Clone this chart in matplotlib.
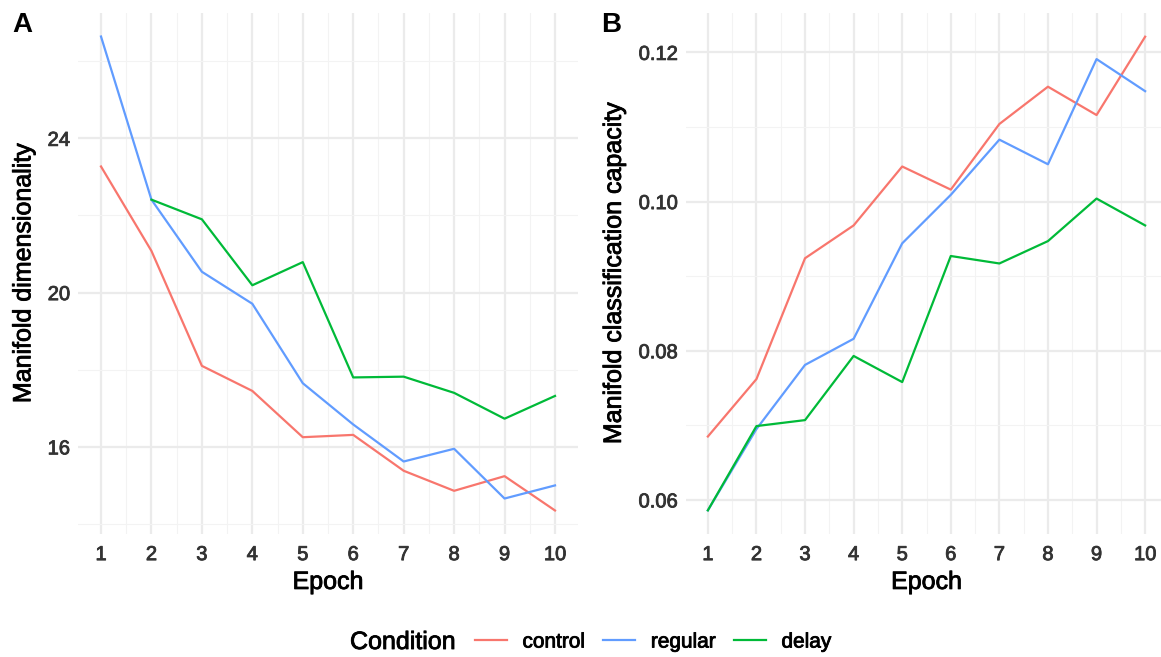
import matplotlib.pyplot as plt
import matplotlib.patheffects as pe
from matplotlib.lines import Line2D
from matplotlib.ticker import MultipleLocator

plt.rcParams['font.family'] = ['Liberation Sans', 'DejaVu Sans']

# data
epochs = [1, 2, 3, 4, 5, 6, 7, 8, 9, 10]
epochs_delay_a = [2, 3, 4, 5, 6, 7, 8, 9, 10]

dim_control = [23.27, 21.08, 18.10, 17.45, 16.25, 16.31, 15.38, 14.86, 15.24, 14.35]
dim_regular = [26.64, 22.41, 20.54, 19.71, 17.65, 16.58, 15.62, 15.95, 14.66, 15.00]
dim_delay = [22.41, 21.90, 20.19, 20.79, 17.80, 17.82, 17.40, 16.73, 17.32]

cap_control = [0.0685, 0.0762, 0.0924, 0.0968, 0.1047, 0.1016, 0.1104, 0.1154, 0.1116, 0.1221]
cap_regular = [0.0586, 0.0695, 0.0781, 0.0816, 0.0944, 0.1009, 0.1083, 0.1050, 0.1191, 0.1148]
cap_delay = [0.0586, 0.0699, 0.0707, 0.0793, 0.0758, 0.0927, 0.0917, 0.0947, 0.1004, 0.0968]

conditions = ["control", "regular", "delay"]
colors = {"control": "#F8766D", "regular": "#619CFF", "delay": "#00BA38"}

W, H = 1161, 657
fig = plt.figure(figsize=(W / 100, H / 100), dpi=100)

# slightly heavier text, like the reference rendering
def heavy(color):
  return [pe.withStroke(linewidth=0.6, foreground=color)]

def px_axes(left, right, top, bottom):
  return fig.add_axes([left / W, 1 - bottom / H, (right - left) / W, (bottom - top) / H])

axA = px_axes(78.3, 577.7, 13, 534)
axB = px_axes(686, 1167, 13, 534)

def style(ax, major, minor):
  ax.set_xlim(0.55, 10.45)
  ax.xaxis.set_major_locator(MultipleLocator(1))
  ax.xaxis.set_minor_locator(MultipleLocator(0.5))
  ax.yaxis.set_major_locator(MultipleLocator(major))
  ax.yaxis.set_minor_locator(MultipleLocator(minor))
  ax.grid(which="major", color="#EBEBEB", linewidth=1.6)
  ax.grid(which="minor", color="#F3F3F3", linewidth=0.8)
  ax.set_axisbelow(True)
  for s in ax.spines.values():
    s.set_visible(False)
  ax.tick_params(which="both", length=0)
  ax.tick_params(axis="x", pad=8)
  ax.tick_params(axis="y", pad=6)

def tick_text(ax):
  for lab in ax.get_xticklabels() + ax.get_yticklabels():
    lab.set_fontsize(14.5)
    lab.set_color("#333333")
    lab.set_path_effects(heavy("#333333"))

# panel A
axA.plot(epochs, dim_control, color=colors["control"], lw=1.6)
axA.plot(epochs, dim_regular, color=colors["regular"], lw=1.6)
axA.plot(epochs_delay_a, dim_delay, color=colors["delay"], lw=1.6)
axA.set_ylim(13.74, 27.25)
style(axA, 4, 2)
axA.set_xticks(epochs)
axA.set_yticks([16, 20, 24])
tick_text(axA)
axA.set_xlabel("Epoch", fontsize=18, va="center", path_effects=heavy("black"))
axA.set_ylabel("Manifold dimensionality", fontsize=18, va="center", path_effects=heavy("black"))
axA.xaxis.set_label_coords(0.5, -0.092)
axA.yaxis.set_label_coords(-0.11, 0.5)

# panel B
axB.plot(epochs, cap_control, color=colors["control"], lw=1.6)
axB.plot(epochs, cap_regular, color=colors["regular"], lw=1.6)
axB.plot(epochs, cap_delay, color=colors["delay"], lw=1.6)
axB.set_ylim(0.05543, 0.12528)
style(axB, 0.02, 0.01)
axB.set_xticks(epochs)
axB.set_yticks([0.06, 0.08, 0.10, 0.12])
axB.set_yticklabels(["0.06", "0.08", "0.10", "0.12"])
tick_text(axB)
axB.set_xlabel("Epoch", fontsize=18, va="center", path_effects=heavy("black"))
axB.set_ylabel("Manifold classification capacity", fontsize=18, va="center", path_effects=heavy("black"))
axB.xaxis.set_label_coords(0.5, -0.092)
axB.yaxis.set_label_coords(-0.15, 0.5)

# panel tags
fig.text(12 / W, 1 - 25 / H, "A", fontsize=20, fontweight="bold", va="center")
fig.text(601 / W, 1 - 25 / H, "B", fontsize=20, fontweight="bold", va="center")

# legend
handles = [Line2D([], [], color=colors[c], lw=1.6) for c in conditions]
leg = fig.legend(handles, conditions, ncol=3, loc="center",
                 bbox_to_anchor=(653 / W, 1 - 642 / H), frameon=False,
                 handlelength=1.55, handletextpad=0.75, columnspacing=0.85,
                 prop={"size": 15})
for t in leg.get_texts():
  t.set_path_effects(heavy("black"))
fig.text(350 / W, 1 - 642 / H, "Condition", fontsize=18, va="center", ha="left",
         path_effects=heavy("black"))

fig.savefig("out.png", dpi=100, facecolor="white")
